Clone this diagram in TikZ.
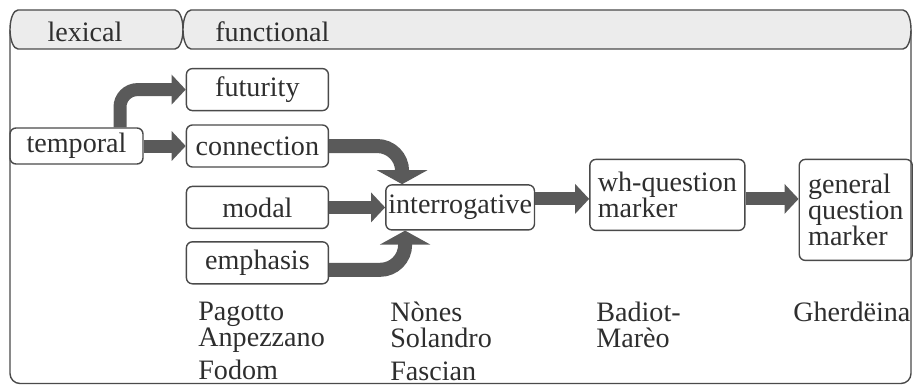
\documentclass[tikz,border=0pt]{standalone}
\usepackage{fontspec}
\setmainfont{Liberation Serif}
\usetikzlibrary{positioning,arrows.meta}

\definecolor{linegray}{HTML}{4A4A4A}
\definecolor{arrowgray}{HTML}{5A5A5A}
\definecolor{tabgray}{HTML}{ECECEC}
\definecolor{textgray}{HTML}{2E2E2E}

\tikzset{
  box/.style={draw=linegray,line width=0.8pt,rounded corners=0.12cm,minimum width=2.84cm,minimum height=0.84cm,inner sep=0.05cm,text=textgray,font=\fontsize{16}{15}\selectfont,align=left},
  tab/.style={draw=linegray,line width=0.8pt,fill=tabgray},
  frame/.style={draw=linegray,line width=0.8pt,rounded corners=0.2cm},
  tabtext/.style={text=textgray,font=\fontsize{16}{15}\selectfont,inner sep=0pt},
  langtext/.style={tabtext,align=left,anchor=north west},
  link/.style={draw=arrowgray,line width=0.26cm,-{Triangle[width=0.58cm,length=0.28cm]}},
  curvelink/.style={draw=arrowgray,line width=0.28cm,rounded corners=0.5cm,-{Triangle[width=1cm,length=0.28cm]}}
}

\begin{document}
\begin{tikzpicture}
  \useasboundingbox (0,0) rectangle (18.3,7.7);

  % Frame and header
  \draw [frame] (0.2,7.11) -- (0.2,0.03) -- (18.22,0.03) -- (18.22,7.11);
  \draw [tab] (0.36,7.5) -- (3.5,7.5) arc [start angle=90,end angle=-90,x radius=0.16cm,y radius=0.39cm]
    -- (0.36,6.72) arc [start angle=270,end angle=90,x radius=0.16cm,y radius=0.39cm] -- cycle;
  \draw [tab] (3.82,7.5) -- (18.06,7.5) arc [start angle=90,end angle=-90,x radius=0.16cm,y radius=0.39cm]
    -- (3.82,6.72) arc [start angle=270,end angle=90,x radius=0.16cm,y radius=0.39cm] -- cycle;
  \node [tabtext] (lexical) at (1.7,7.06) {lexical};
  \node [tabtext,anchor=west] (functional) at (4.3,7.06) {functional};

  % Lexical source
  \node [box,minimum width=2.66cm,minimum height=0.72cm] (temporal) at (1.53,4.78) {temporal};

  % Functional categories
  \node [box,right=0.84cm of temporal] (connection) {connection};
  \node [box,above=0.26cm of connection] (futurity) {futurity};
  \node [box,below=0.36cm of connection] (modal) {modal};
  \node [box,below=0.24cm of modal] (emphasis) {emphasis};

  % Question markers
  \node [box,right=1.12cm of modal,minimum width=2.94cm,minimum height=0.9cm] (inter) {interrogative};
  \node [box,right=1.08cm of inter,yshift=0.25cm,minimum width=3.1cm,minimum height=1.42cm] (whq) {wh-question\\marker};
  \node [box,below right=0cm and 1.06cm of whq.north east,minimum width=2.26cm,minimum height=2.02cm] (genq) {general\\question\\marker};

  % Varieties
  \node [langtext] (col1) at (3.96,1.67) {Pagotto\\Anpezzano\\[3.7pt]Fodom};
  \node [langtext] (col2) at (7.8,1.67) {Nònes\\Solandro\\[3.7pt]Fascian};
  \node [langtext] (col3) at (11.92,1.67) {Badiot-\\Marèo};
  \node [langtext] (col4) at (15.86,1.67) {Gherdëina};

  % Arrows from temporal
  \draw [link,rounded corners=0.35cm] ([xshift=0.87cm]temporal.north) |- (futurity.west);
  \draw [link] (temporal) -- (connection);

  % Arrows into interrogative
  \draw [curvelink] (connection.east) -| ([xshift=0.34cm]inter.north west);
  \draw [link] (modal) -- (inter);
  \draw [curvelink] ([yshift=-0.14cm]emphasis.east) -| ([xshift=0.4cm]inter.south west);

  % Arrows to question markers
  \coordinate (qline) at ([yshift=-0.08cm]whq.west);
  \draw [link] (inter.east |- qline) -- (qline);
  \draw [link] (whq.east |- qline) -- (genq.west |- qline);

\end{tikzpicture}
\end{document}
